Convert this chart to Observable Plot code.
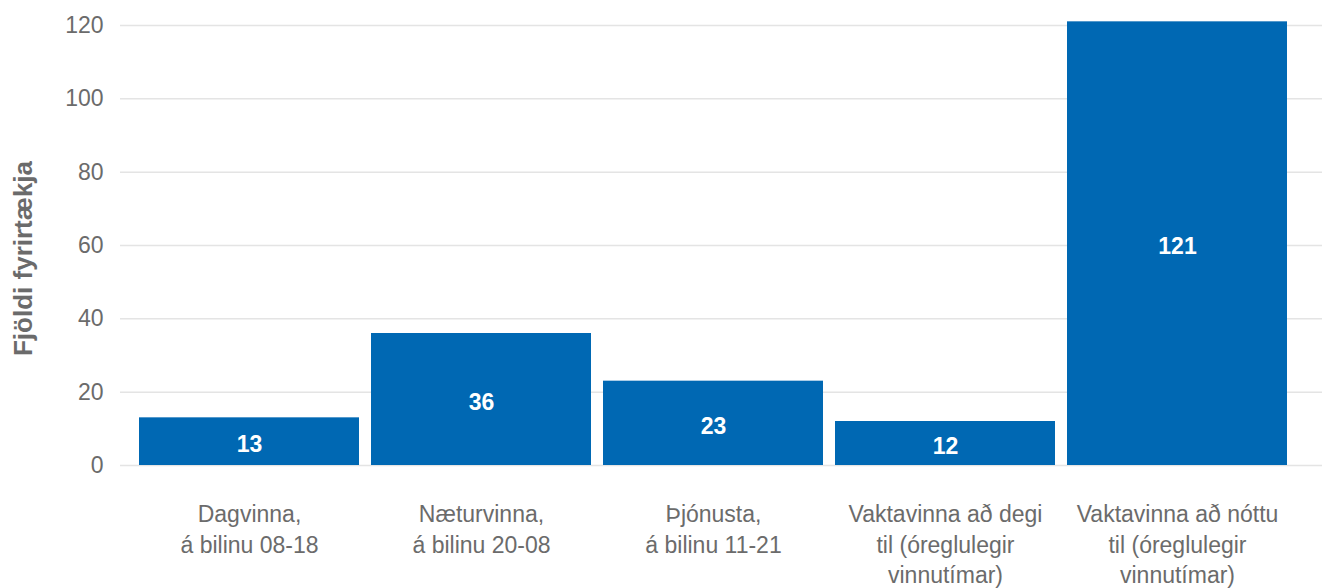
<!DOCTYPE html>
<html>
<head>
<meta charset="utf-8">
<script src="https://cdn.jsdelivr.net/npm/d3@7"></script>
<script src="https://cdn.jsdelivr.net/npm/@observablehq/plot@0.6"></script>
<style>
  html, body { margin: 0; padding: 0; background: #fff; }
  #chart svg { display: block; }
</style>
</head>
<body>
<div id="chart"></div>
<script>
const categories = [
  "Dagvinna,\ná bilinu 08-18",
  "Næturvinna,\ná bilinu 20-08",
  "Þjónusta,\ná bilinu 11-21",
  "Vaktavinna að degi\ntil (óreglulegir\nvinnutímar)",
  "Vaktavinna að nóttu\ntil (óreglulegir\nvinnutímar)"
];
const values = [13, 36, 23, 12, 121];
const yTicks = [0, 20, 40, 60, 80, 100, 120];
const yTitle = "Fjöldi fyrirtækja";

const data = categories.map((c, i) => ({category: c, value: values[i]}));
const font = "'Liberation Sans', Arial, Helvetica, sans-serif";
const gray = "#6b6b6b";

const chart = Plot.plot({
  width: 1322,
  height: 588,
  marginLeft: 120,
  marginRight: 0,
  marginTop: 25,
  marginBottom: 123,
  style: {fontFamily: font, fontSize: "23px", background: "#fff"},
  x: {domain: categories, insetLeft: 12.5, insetRight: 28.5, paddingInner: 0.05, paddingOuter: 0.025, label: null},
  y: {domain: [0, 120], label: null},
  marks: [
    Plot.ruleY(yTicks, {stroke: "#e4e4e4", strokeWidth: 1.5}),
    Plot.barY(data, {x: "category", y: "value", fill: "#0068b3"}),
    Plot.text(data, {
      x: "category", y: d => d.value / 2, text: d => String(d.value),
      fill: "white", fontWeight: "bold", fontSize: 23, dy: 3
    }),
    Plot.axisY({ticks: yTicks, tickSize: 0, tickPadding: 17, fill: gray, fontSize: 23, label: null}),
    Plot.axisX({tickSize: 0, tickPadding: 35, fill: gray, fontSize: 23, lineHeight: 1.33, label: null}),
    Plot.text([yTitle], {
      frameAnchor: "left", textAnchor: "middle", rotate: -90, dx: -97, dy: 13,
      fill: gray, fontWeight: "bold", fontSize: 26
    })
  ]
});
document.getElementById("chart").appendChild(chart);
</script>
</body>
</html>
